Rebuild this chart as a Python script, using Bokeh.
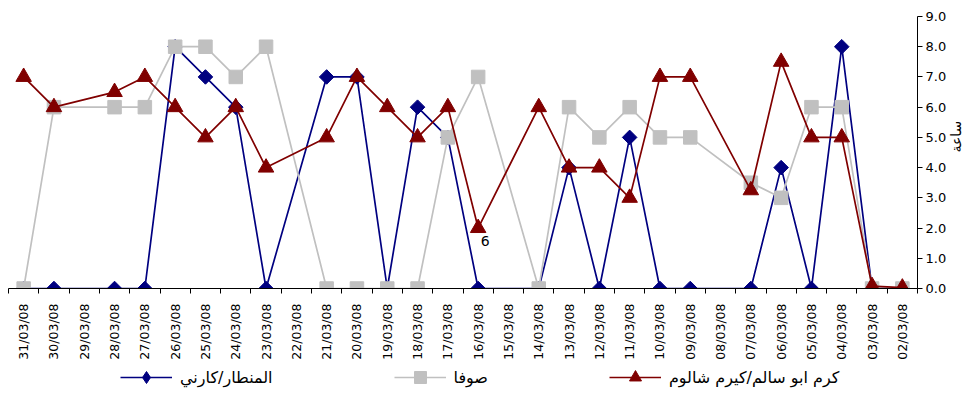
import math
from bokeh.plotting import figure
from bokeh.layouts import column
from bokeh.models import Range1d, FixedTicker, NumeralTickFormatter, Legend, LegendItem
from bokeh.embed import file_html
from bokeh.resources import INLINE
from bokeh.core.properties import value

dates = ["31/03/08", "30/03/08", "29/03/08", "28/03/08", "27/03/08", "26/03/08",
         "25/03/08", "24/03/08", "23/03/08", "22/03/08", "21/03/08", "20/03/08",
         "19/03/08", "18/03/08", "17/03/08", "16/03/08", "15/03/08", "14/03/08",
         "13/03/08", "12/03/08", "11/03/08", "10/03/08", "09/03/08", "08/03/08",
         "07/03/08", "06/03/08", "05/03/08", "04/03/08", "03/03/08", "02/03/08"]

muntar = [0, 0, None, 0, 0, 8, 7, 6, 0, None, 7, 7, 0, 6, 5, 0, None, 0, 4, 0,
          5, 0, 0, None, 0, 4, 0, 8, 0, 0]
sufa = [0, 6, None, 6, 6, 8, 8, 7, 8, None, 0, 0, 0, 0, 5, 7, None, 0, 6, 5,
        6, 5, 5, None, 3.5, 3, 6, 6, 0, 0]
kerem = [7, 6, None, 6.5, 7, 6, 5, 6, 4, None, 5, 7, 6, 5, 6, 2, None, 6, 4, 4,
         3, 7, 7, None, 3.25, 7.5, 5, 5, 0.08, 0.03]

series_names = ["المنطار/كارني", "صوفا", "كرم ابو سالم/كيرم شالوم"]
y_ticks = [0, 1, 2, 3, 4, 5, 6, 7, 8, 9]
y_title = "ساعة"
annot_dates = ["16/03/08"]
annot_text = ["6"]

NAVY = "#000080"
GRAY = "#C0C0C0"
RED = "#800000"
FONT = "DejaVu Sans"

xs = [i + 0.5 for i in range(len(dates))]

p = figure(frame_width=909, frame_height=272,
           x_range=Range1d(0, len(dates)), y_range=Range1d(0, 9),
           y_axis_location="right", output_backend="svg", toolbar_location=None,
           min_border_left=8, min_border_right=0, min_border_top=16,
           min_border_bottom=0)
p.outline_line_color = None
p.grid.visible = False
p.background_fill_color = "white"


def pts(vals):
    x = [xs[i] for i, v in enumerate(vals) if v is not None]
    y = [v for v in vals if v is not None]
    return x, y


x1, y1 = pts(muntar)
x2, y2 = pts(sufa)
x3, y3 = pts(kerem)

p.line(x1, y1, line_color=NAVY, line_width=1.7)
p.scatter(x1, y1, marker="square", angle=math.pi / 4, size=10.3,
          fill_color=NAVY, line_color=NAVY)
p.line(x2, y2, line_color=GRAY, line_width=1.7)
p.scatter(x2, y2, marker="square", size=13.5, fill_color=GRAY, line_color=GRAY)
p.line(x3, y3, line_color=RED, line_width=1.7)
p.scatter(x3, y3, marker="triangle", size=15.5, fill_color=RED, line_color=RED)

ax = [xs[dates.index(d)] for d in annot_dates]
ay = [kerem[dates.index(d)] for d in annot_dates]
p.text(ax, ay, text=annot_text, x_offset=7, y_offset=13,
       text_align="center", text_baseline="middle",
       text_font=value(FONT), text_font_size="14px", text_color="black")

# x axis
xa = p.xaxis[0]
xa.ticker = FixedTicker(ticks=xs, minor_ticks=list(range(len(dates) + 1)))
xa.major_label_overrides = {x: d for x, d in zip(xs, dates)}
xa.major_tick_in = 0
xa.major_tick_out = 0
xa.minor_tick_in = 0
xa.minor_tick_out = 5
xa.minor_tick_line_color = "black"
xa.axis_line_color = "black"
xa.major_label_orientation = math.pi / 2
xa.major_label_standoff = 10
xa.major_label_text_font = FONT
xa.major_label_text_font_size = "12.5px"
xa.major_label_text_color = "black"

# y axis (right)
ya = p.yaxis[0]
ya.ticker = FixedTicker(ticks=y_ticks)
ya.formatter = NumeralTickFormatter(format="0.0")
ya.major_tick_in = 0
ya.major_tick_out = 5
ya.minor_tick_in = 0
ya.minor_tick_out = 0
ya.axis_line_color = "black"
ya.major_tick_line_color = "black"
ya.major_label_standoff = 3
ya.major_label_text_font = FONT
ya.major_label_text_font_size = "13px"
ya.major_label_text_color = "black"
ya.axis_label = y_title
ya.axis_label_orientation = math.pi / 2
ya.axis_label_text_align = "center"
ya.axis_label_text_baseline = "middle"
ya.axis_label_standoff = 7
ya.axis_label_text_font = FONT
ya.axis_label_text_font_size = "14px"
ya.axis_label_text_font_style = "normal"
ya.axis_label_text_color = "black"

# legend in its own strip below the chart (its renderers lie outside its ranges)
pl = figure(width=960, height=40, x_range=Range1d(-20, -10), y_range=Range1d(-20, -10),
            output_backend="svg", toolbar_location=None, min_border=0)
pl.axis.visible = False
pl.grid.visible = False
pl.outline_line_color = None
g1 = [pl.line(x1, y1, line_color=NAVY, line_width=1.7),
      pl.scatter(x1, y1, marker="diamond", size=10, fill_color=NAVY, line_color=NAVY)]
g2 = [pl.line(x2, y2, line_color=GRAY, line_width=1.7),
      pl.scatter(x2, y2, marker="square", size=10, fill_color=GRAY, line_color=GRAY)]
g3 = [pl.line(x3, y3, line_color=RED, line_width=1.7),
      pl.scatter(x3, y3, marker="triangle", size=10, fill_color=RED, line_color=RED)]
legend = Legend(items=[
    LegendItem(label=series_names[0], renderers=g1),
    LegendItem(label=series_names[1], renderers=g2),
    LegendItem(label=series_names[2], renderers=g3),
], orientation="horizontal", location=(112, 10),
    glyph_width=52, glyph_height=30, label_standoff=8, spacing=121,
    padding=0, margin=0, border_line_color=None, background_fill_alpha=0,
    label_text_font=FONT, label_text_font_size="16px", label_text_color="black")
pl.add_layout(legend)

layout = column(p, pl, spacing=0)
open("out.html", "w").write(file_html(layout, INLINE))
